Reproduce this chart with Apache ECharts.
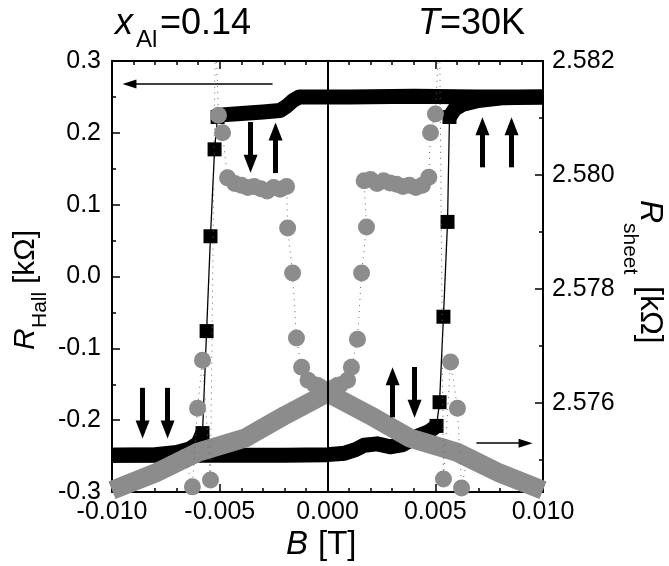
<!DOCTYPE html>
<html>
<head>
<meta charset="utf-8">
<script src="https://cdn.jsdelivr.net/npm/echarts@6/dist/echarts.min.js"></script>
<style>
  html, body { margin: 0; padding: 0; background: #fff; }
  #chart { width: 669px; height: 566px; }
</style>
</head>
<body>
<div id="chart"></div>
<script>
// R_Hall [kOhm] vs B [T], sweep from +B to -B (magnetisation up, then reversal)
const sweepDownTop = [[0.010, 0.250], [0.007, 0.250], [0.004, 0.251], [0.001, 0.250], [-0.0013, 0.250],
  [-0.0016, 0.245], [-0.0019, 0.237], [-0.0022, 0.231], [-0.003, 0.229], [-0.004, 0.227], [-0.0049, 0.225], [-0.0051, 0.222]]
const sweepDownJump = [[-0.0051, 0.222], [-0.00524, 0.177], [-0.00543, 0.056], [-0.00561, -0.076], [-0.0058, -0.218]]
const sweepDownBottom = [[-0.0058, -0.218], [-0.006, -0.232], [-0.0064, -0.240], [-0.007, -0.245], [-0.008, -0.248], [-0.010, -0.249]]
// sweep from -B to +B
const sweepUpBottom = [[-0.010, -0.249], [-0.006, -0.249], [-0.002, -0.249], [0.000, -0.248], [0.0008, -0.246], [0.0013, -0.241],
  [0.0017, -0.235], [0.0023, -0.233], [0.0029, -0.237], [0.0035, -0.234], [0.0042, -0.222], [0.0047, -0.216], [0.00506, -0.208]]
const sweepUpJump = [[0.00506, -0.208], [0.0052, -0.175], [0.00538, -0.056], [0.00557, 0.076], [0.00566, 0.222]]
const sweepUpTop = [[0.00566, 0.222], [0.0059, 0.233], [0.0063, 0.240], [0.0070, 0.245], [0.0082, 0.249], [0.010, 0.250]]

// R_sheet [kOhm] (right axis): dense linear arms + separate points
const rsArmLeft = [[-0.010, 2.57447], [-0.008, 2.57477], [-0.006, 2.57514], [-0.0038, 2.57539], [-0.00195, 2.57579], [0.000, 2.57618], [0.0006, 2.57632]]
const rsArmRight = [[0.010, 2.57447], [0.008, 2.57477], [0.006, 2.57514], [0.0038, 2.57539], [0.00195, 2.57579], [0.000, 2.57618], [-0.0006, 2.57632]]
const rsUpSweep = [[0.0006, 2.57632], [0.00093, 2.57640], [0.00111, 2.57663], [0.00139, 2.57712], [0.00158, 2.57828], [0.00181, 2.57909],
  [0.0017, 2.57990], [0.0020, 2.57992], [0.0023, 2.57985], [0.0026, 2.57990], [0.0029, 2.57986], [0.0032, 2.57984], [0.0035, 2.57980],
  [0.0038, 2.57982], [0.0041, 2.57978], [0.0044, 2.57982], [0.0047, 2.57996], [0.00478, 2.58074], [0.00501, 2.58107], [0.0052, 2.5826],
  [0.00538, 2.57467], [0.00571, 2.57672], [0.00603, 2.57591], [0.00622, 2.57451], [0.0065, 2.57505]]
const rsDownSweep = [[-0.0006, 2.57632], [-0.0009, 2.57640], [-0.0012, 2.57663], [-0.00144, 2.57714], [-0.00162, 2.57828], [-0.00185, 2.57907],
  [-0.0019, 2.57980], [-0.0022, 2.57975], [-0.0025, 2.57978], [-0.0028, 2.57972], [-0.0031, 2.57976], [-0.0034, 2.57980], [-0.0037, 2.57978],
  [-0.004, 2.57982], [-0.0043, 2.57985], [-0.00464, 2.57995], [-0.00487, 2.58074], [-0.00506, 2.58105], [-0.0052, 2.5826],
  [-0.00543, 2.57465], [-0.0058, 2.57675], [-0.00603, 2.57591], [-0.00627, 2.57453], [-0.0066, 2.57505]]

// tick values for the right axis
const rsMajorTicks = [2.576, 2.578, 2.580, 2.582]
const rsMinorTicks = [2.575, 2.577, 2.579, 2.581]

// annotation arrows in (B, R_Hall) coords: [tail, head centre]
const thickArrows = [
  [[-0.00357, 0.215], [-0.00357, 0.157]],
  [[-0.00241, 0.144], [-0.00241, 0.202]],
  [[0.00719, 0.152], [0.00719, 0.209]],
  [[0.00854, 0.152], [0.00854, 0.209]],
  [[-0.00858, -0.155], [-0.00858, -0.213]],
  [[-0.00742, -0.155], [-0.00742, -0.213]],
  [[0.00302, -0.196], [0.00302, -0.139]],
  [[0.00404, -0.126], [0.00404, -0.184]]
]
const thinArrows = [
  [[-0.00255, 0.268], [-0.00919, 0.268]],
  [[0.00691, -0.232], [0.00919, -0.232]]
]

const FONT = 'Liberation Sans, Arial, sans-serif'
const GRAY = '#8c8c8c'

const chart = echarts.init(document.getElementById('chart'), null, { renderer: 'canvas' })

function frameAxis(extra) {
  return Object.assign({
    type: 'value',
    axisLine: { show: true, onZero: false, lineStyle: { color: '#000', width: 2 } },
    axisTick: { show: true, inside: true, length: 8, lineStyle: { color: '#000', width: 1.5 } },
    splitLine: { show: false },
    axisLabel: { color: '#000', fontSize: 25, fontFamily: FONT }
  }, extra)
}

function band(data, color, width, yAxisIndex, z) {
  return {
    type: 'line', data, yAxisIndex, symbol: 'none', z, silent: true,
    lineStyle: { color, width, cap: 'butt', join: 'round' }
  }
}

function squares(data) {
  return {
    type: 'line', data, yAxisIndex: 0, z: 3, silent: true,
    symbol: 'rect', symbolSize: 14, showAllSymbol: true,
    itemStyle: { color: '#000' },
    lineStyle: { color: '#000', width: 1.3 }
  }
}

function circles(data) {
  return {
    type: 'line', data, yAxisIndex: 1, z: 5, silent: true,
    symbol: 'circle', symbolSize: 17, showAllSymbol: true,
    itemStyle: { color: GRAY },
    lineStyle: { color: '#666', width: 1, type: [1, 5] }
  }
}

const txt = (text, x, y, size, italic) => ({
  type: 'text', x, y,
  style: {
    text, fill: '#000',
    font: (italic ? 'italic ' : '') + size + 'px ' + FONT,
    textAlign: 'left', textVerticalAlign: 'middle', align: 'left', verticalAlign: 'middle'
  }
})

chart.setOption({
  animation: false,
  backgroundColor: '#fff',
  grid: { left: 112, right: 126, top: 61, bottom: 74 },
  xAxis: [
    frameAxis({
      position: 'bottom', min: -0.01, max: 0.01, interval: 0.005,
      minorTick: { show: true, splitNumber: 5, length: 4, lineStyle: { color: '#000', width: 1.5 } },
      axisLabel: {
        color: '#000', fontSize: 25, fontFamily: FONT, margin: 8,
        formatter: v => (Math.abs(v) < 1e-9 ? 0 : v).toFixed(3)
      }
    }),
    frameAxis({
      position: 'top', min: -0.01, max: 0.01, interval: 0.005,
      minorTick: { show: true, splitNumber: 5, length: 4, lineStyle: { color: '#000', width: 1.5 } },
      axisLabel: { show: false }
    })
  ],
  yAxis: [
    frameAxis({
      position: 'left', min: -0.3, max: 0.3, interval: 0.1,
      minorTick: { show: true, splitNumber: 2, length: 4, lineStyle: { color: '#000', width: 1.5 } },
      axisLabel: {
        color: '#000', fontSize: 25, fontFamily: FONT, margin: 11,
        formatter: v => (Math.abs(v) < 1e-9 ? 0 : v).toFixed(1)
      }
    }),
    frameAxis({
      position: 'right', min: 2.57444, max: 2.582,
      axisTick: { show: true, inside: true, length: 8, customValues: rsMajorTicks, lineStyle: { color: '#000', width: 1.5 } },
      axisLabel: {
        color: '#000', fontSize: 25, fontFamily: FONT, margin: 9, customValues: rsMajorTicks,
        formatter: v => v.toFixed(3)
      }
    }),
    frameAxis({
      position: 'right', min: 2.57444, max: 2.582,
      axisLine: { show: false, onZero: false },
      axisTick: { show: true, inside: true, length: 4, customValues: rsMinorTicks, lineStyle: { color: '#000', width: 1.5 } },
      axisLabel: { show: false, customValues: rsMinorTicks }
    })
  ],
  series: [
    band(sweepDownTop, '#000', 15, 0, 2),
    band(sweepDownBottom, '#000', 15, 0, 2),
    band(sweepUpBottom, '#000', 15, 0, 2),
    band(sweepUpTop, '#000', 15, 0, 2),
    squares(sweepDownJump),
    squares(sweepUpJump),
    band(rsArmLeft, GRAY, 19, 1, 4),
    band(rsArmRight, GRAY, 19, 1, 4),
    circles(rsUpSweep),
    circles(rsDownSweep),
    {
      type: 'line', data: [], yAxisIndex: 0, z: 8, silent: true,
      markLine: {
        silent: true, animation: false,
        symbol: ['none', 'triangle'], symbolSize: [14, 18],
        label: { show: false },
        lineStyle: { color: '#000', width: 5, type: 'solid' },
        data: thickArrows.map(a => [{ coord: a[0] }, { coord: a[1] }])
      }
    },
    {
      type: 'line', data: [], yAxisIndex: 0, z: 8, silent: true,
      markLine: {
        silent: true, animation: false,
        symbol: ['none', 'triangle'], symbolSize: [9, 14],
        label: { show: false },
        lineStyle: { color: '#000', width: 1.5, type: 'solid' },
        data: thinArrows.map(a => [{ coord: a[0] }, { coord: a[1] }])
      }
    },
    {
      type: 'line', data: [], yAxisIndex: 0, z: 9, silent: true,
      markLine: {
        silent: true, animation: false, symbol: 'none',
        label: { show: false },
        lineStyle: { color: '#000', width: 2, type: 'solid' },
        data: [{ xAxis: 0 }]
      }
    }
  ],
  graphic: [
    txt('x', 115, 24, 36, true),
    txt('Al', 136, 40, 24, false),
    txt('=0.14', 160, 24, 36, false),
    txt('T', 418, 24, 36, true),
    txt('=30K', 440, 24, 36, false),
    txt('B', 286, 545, 33, true),
    txt('[T]', 318, 545, 33, false),
    {
      type: 'group', x: 26, y: 350, rotation: Math.PI / 2,
      children: [
        txt('R', 0, 0, 30, true),
        txt('Hall', 22, 14, 21, false),
        txt('[kΩ]', 66, 0, 30, false)
      ]
    },
    {
      type: 'group', x: 650, y: 200, rotation: -Math.PI / 2,
      children: [
        txt('R', 0, 0, 32, true),
        txt('sheet', 23, 20, 21, false),
        txt('[kΩ]', 86, 0, 32, false)
      ]
    }
  ]
})
</script>
</body>
</html>
